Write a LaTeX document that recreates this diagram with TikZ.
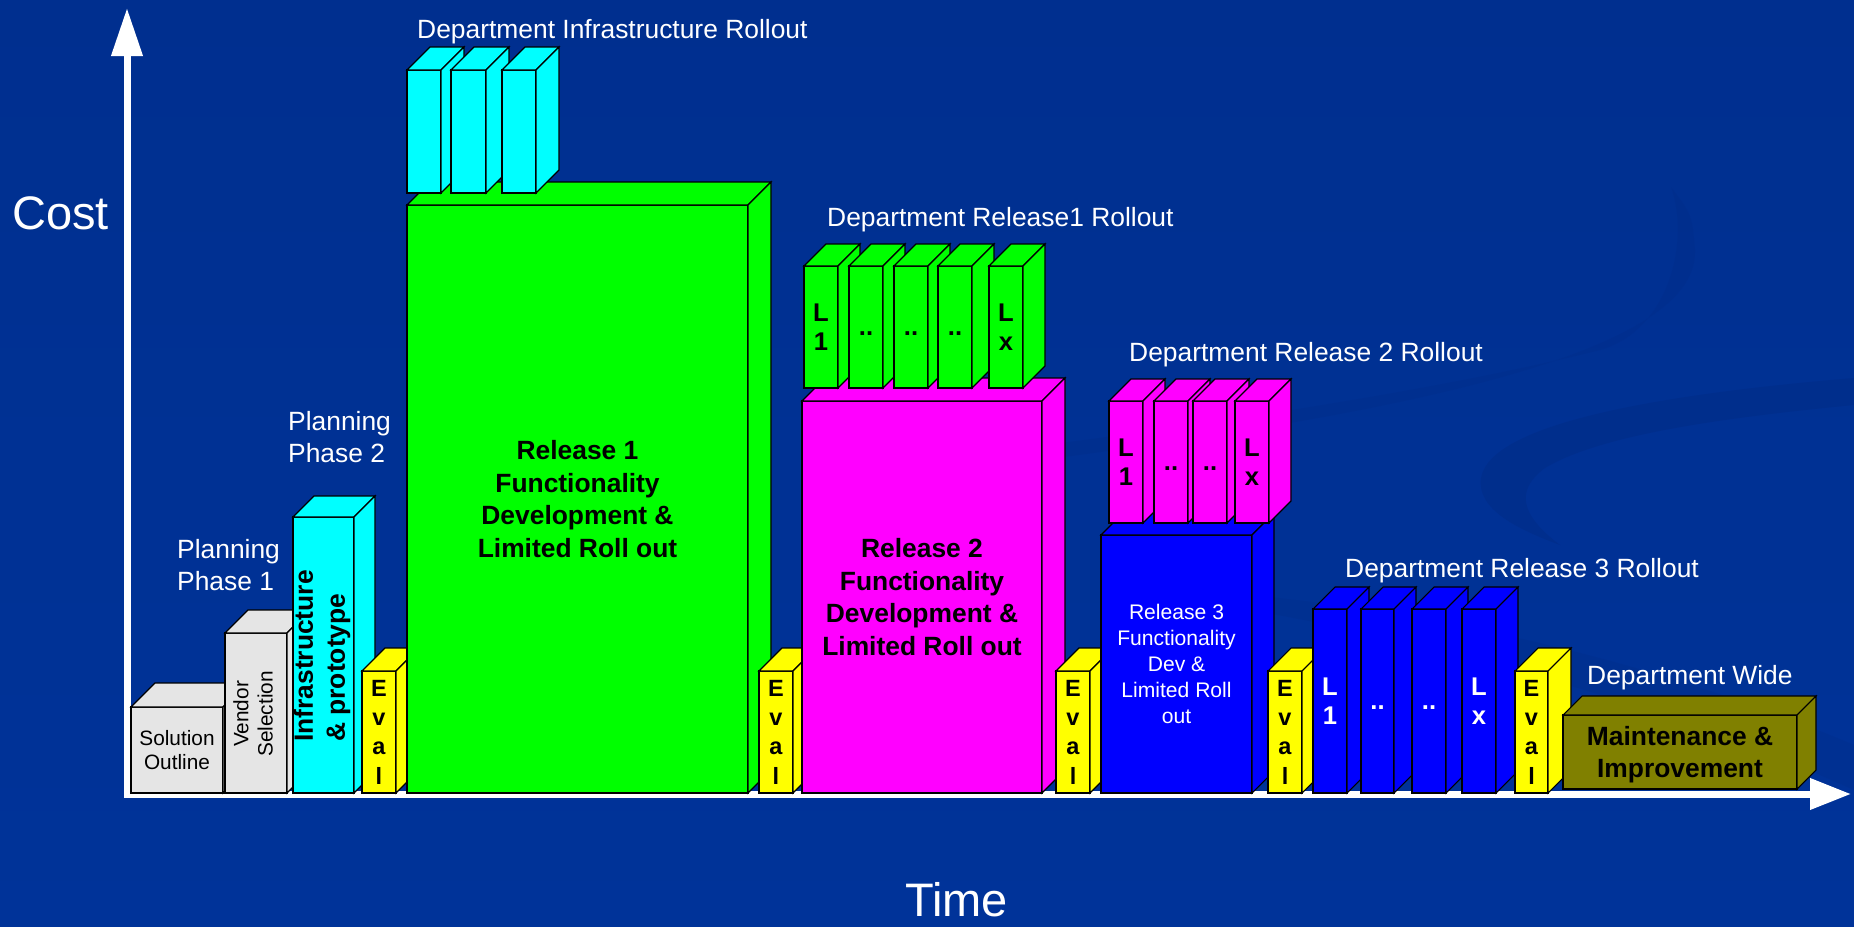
\documentclass[tikz,border=0pt]{standalone}
\usepackage{fontspec}
\setmainfont{Liberation Sans}
\usetikzlibrary{arrows.meta}
\definecolor{bgblue}{RGB}{0,51,153}
\definecolor{bgtop}{RGB}{0,47,143}
\definecolor{swoosh}{RGB}{0,44,136}
\definecolor{boxgray}{RGB}{229,229,229}
\definecolor{cCyan}{RGB}{0,255,255}
\definecolor{cYellow}{RGB}{255,255,0}
\definecolor{cGreen}{RGB}{0,255,0}
\definecolor{cMagenta}{RGB}{255,0,255}
\definecolor{cBlue}{RGB}{0,0,255}
\definecolor{cOlive}{RGB}{128,128,0}
\newcommand{\fsz}[2]{\fontsize{#1pt}{#2pt}\selectfont}
\tikzset{
  frontface/.style={draw=black, line width=1.1pt, inner sep=0pt, outer sep=0pt, align=center, font=\bfseries\fsz{26.4}{32.4}},
  faceline/.style={draw=black, line width=1.1pt, line join=miter},
  lbl/.style={text=white, inner sep=0pt, anchor=base west, font=\fsz{26.4}{32}},
  mlbl/.style={text=white, inner sep=0pt, anchor=north west, align=left, font=\fsz{26.4}{32}},
  axislbl/.style={text=white, inner sep=0pt, anchor=base west, font=\fsz{47}{56}},
  axisline/.style={draw=white, line width=7pt},
  evalbox/.style={font=\bfseries\fsz{23.5}{29.3}},
  lbox/.style={font=\bfseries\fsz{25.6}{28.4}},
}
% #1 options, #2 name, #3 x0, #4 ytop, #5 x1, #6 ybottom, #7 depth, #8 colour, #9 text
\newcommand{\tdbox}[9][]{%
  \pgfmathsetmacro{\tdw}{#5-#3}\pgfmathsetmacro{\tdh}{#6-#4}%
  \node[frontface, fill=#8, minimum width=\tdw pt, minimum height=\tdh pt, anchor=north west, #1] (#2) at (#3,#4) {#9};
  \filldraw[faceline, fill=#8] (#2.north west) -- ++(#7,-#7) -- ++(\tdw,0) -- (#2.north east) -- cycle;
  \filldraw[faceline, fill=#8] (#2.north east) -- ++(#7,-#7) -- ++(0,\tdh) -- (#2.south east) -- cycle;
}
\begin{document}
\begin{tikzpicture}[x=1pt,y=-1pt]
\useasboundingbox (0,0) rectangle (1854,926);
\shade[top color=bgtop, bottom color=bgblue] (0,0) rectangle (1854,926);
% background swooshes
\fill[swoosh, opacity=0.35] (880,480) .. controls (1300,430) and (1700,370) .. (1695,250) .. controls (1692,215) .. (1671,187) .. controls (1690,240) and (1670,330) .. (1600,350) .. controls (1400,400) and (1100,440) .. (880,465) -- cycle;
\fill[swoosh, opacity=0.6] (1854,378) .. controls (1650,395) and (1490,425) .. (1481,478) .. controls (1476,510) and (1520,530) .. (1560,545) .. controls (1520,515) and (1515,490) .. (1545,468) .. controls (1600,435) and (1720,418) .. (1854,405) -- cycle;
\fill[swoosh, opacity=0.3] (1250,595) .. controls (1500,620) and (1700,680) .. (1854,745) -- (1854,790) .. controls (1700,720) and (1480,650) .. (1250,610) -- cycle;

% axes
\coordinate (o) at (127,794);
\coordinate (ytip) at (127,8);
\coordinate (xtip) at (1851,794);
\draw[axisline, {Triangle[width=30pt,length=41pt]}-{Triangle[width=30pt,length=48pt]}] (xtip) -- (o) -- (ytip);
\node[axislbl] (cost) at (12,229) {Cost};
\node[axislbl] (time) at (905,916) {Time};

% planning
\tdbox[font=\fsz{20.8}{24.3}]{so}{131}{707}{223}{793}{24}{boxgray}{Solution\\Outline}
\tdbox{vs}{225}{633}{287}{793}{23}{boxgray}{}
\node[rotate=90, align=center, font=\fsz{20.8}{24.3}, inner sep=0pt] (vstext) at (253,714) {Vendor\\Selection};
\tdbox{inf}{293}{517}{354}{793}{21}{cCyan}{}
\node[rotate=90, anchor=west, align=left, font=\bfseries\fsz{26.4}{32}, inner sep=0pt] (inftext) at (322,742) {Infrastructure\\\& prototype};
\tdbox[evalbox]{ev1}{362}{671}{396}{793}{23}{cYellow}{E\\v\\a\\l}

% release 1
\tdbox{r1}{407}{205}{748}{793}{23}{cGreen}{Release 1\\Functionality\\Development \&\\Limited Roll out}
\tdbox{c1}{407}{70}{441}{193}{23}{cCyan}{}
\tdbox{c2}{451}{70}{486}{193}{23}{cCyan}{}
\tdbox{c3}{502}{70}{536}{193}{23}{cCyan}{}
\tdbox[evalbox]{ev2}{759}{671}{793}{793}{23}{cYellow}{E\\v\\a\\l}

% release 2
\tdbox{r2}{802}{401}{1042}{793}{23}{cMagenta}{Release 2\\Functionality\\Development \&\\Limited Roll out}
\tdbox[lbox]{g1}{804}{266}{838}{388}{22}{cGreen}{L\\1}
\tdbox[lbox]{g2}{849}{266}{883}{388}{22}{cGreen}{\vphantom{L}..}
\tdbox[lbox]{g3}{894}{266}{928}{388}{22}{cGreen}{\vphantom{L}..}
\tdbox[lbox]{g4}{938}{266}{972}{388}{22}{cGreen}{\vphantom{L}..}
\tdbox[lbox]{g5}{989}{266}{1023}{388}{22}{cGreen}{L\\x}
\tdbox[evalbox]{ev3}{1056}{671}{1090}{793}{23}{cYellow}{E\\v\\a\\l}

% release 3
\tdbox[font=\fsz{21.1}{26}, text=white]{r3}{1101}{535}{1252}{793}{22}{cBlue}{Release 3\\Functionality\\Dev \&\\Limited Roll\\out}
\tdbox[lbox]{m1}{1109}{401}{1143}{523}{22}{cMagenta}{L\\1}
\tdbox[lbox]{m2}{1154}{401}{1188}{523}{22}{cMagenta}{\vphantom{L}..}
\tdbox[lbox]{m3}{1193}{401}{1227}{523}{22}{cMagenta}{\vphantom{L}..}
\tdbox[lbox]{m4}{1235}{401}{1269}{523}{22}{cMagenta}{L\\x}
\tdbox[evalbox]{ev4}{1268}{671}{1302}{793}{23}{cYellow}{E\\v\\a\\l}
\tdbox[lbox, text=white]{b1}{1313}{609}{1347}{793}{22}{cBlue}{L\\1}
\tdbox[lbox, text=white]{b2}{1361}{609}{1394}{793}{22}{cBlue}{\vphantom{L}..}
\tdbox[lbox, text=white]{b3}{1412}{609}{1446}{793}{22}{cBlue}{\vphantom{L}..}
\tdbox[lbox, text=white]{b4}{1462}{609}{1496}{793}{22}{cBlue}{L\\x}
\tdbox[evalbox]{ev5}{1515}{671}{1548}{793}{23}{cYellow}{E\\v\\a\\l}

% maintenance
\tdbox[text depth=0pt]{mi}{1563}{715}{1797}{789}{19}{cOlive}{Maintenance \&\\Improvement}

% labels
\node[mlbl] (pp1) at (177,539) {Planning\\Phase 1};
\node[mlbl] (pp2) at (288,411) {Planning\\Phase 2};
\node[lbl] (dinf) at (417,38) {Department Infrastructure Rollout};
\node[lbl] (dr1) at (827,226.7) {Department Release1 Rollout};
\node[lbl] (dr2) at (1129,361.7) {Department Release 2 Rollout};
\node[lbl] (dr3) at (1345,577.6) {Department Release 3 Rollout};
\node[lbl] (dw) at (1587,684.3) {Department Wide};
\end{tikzpicture}
\end{document}
